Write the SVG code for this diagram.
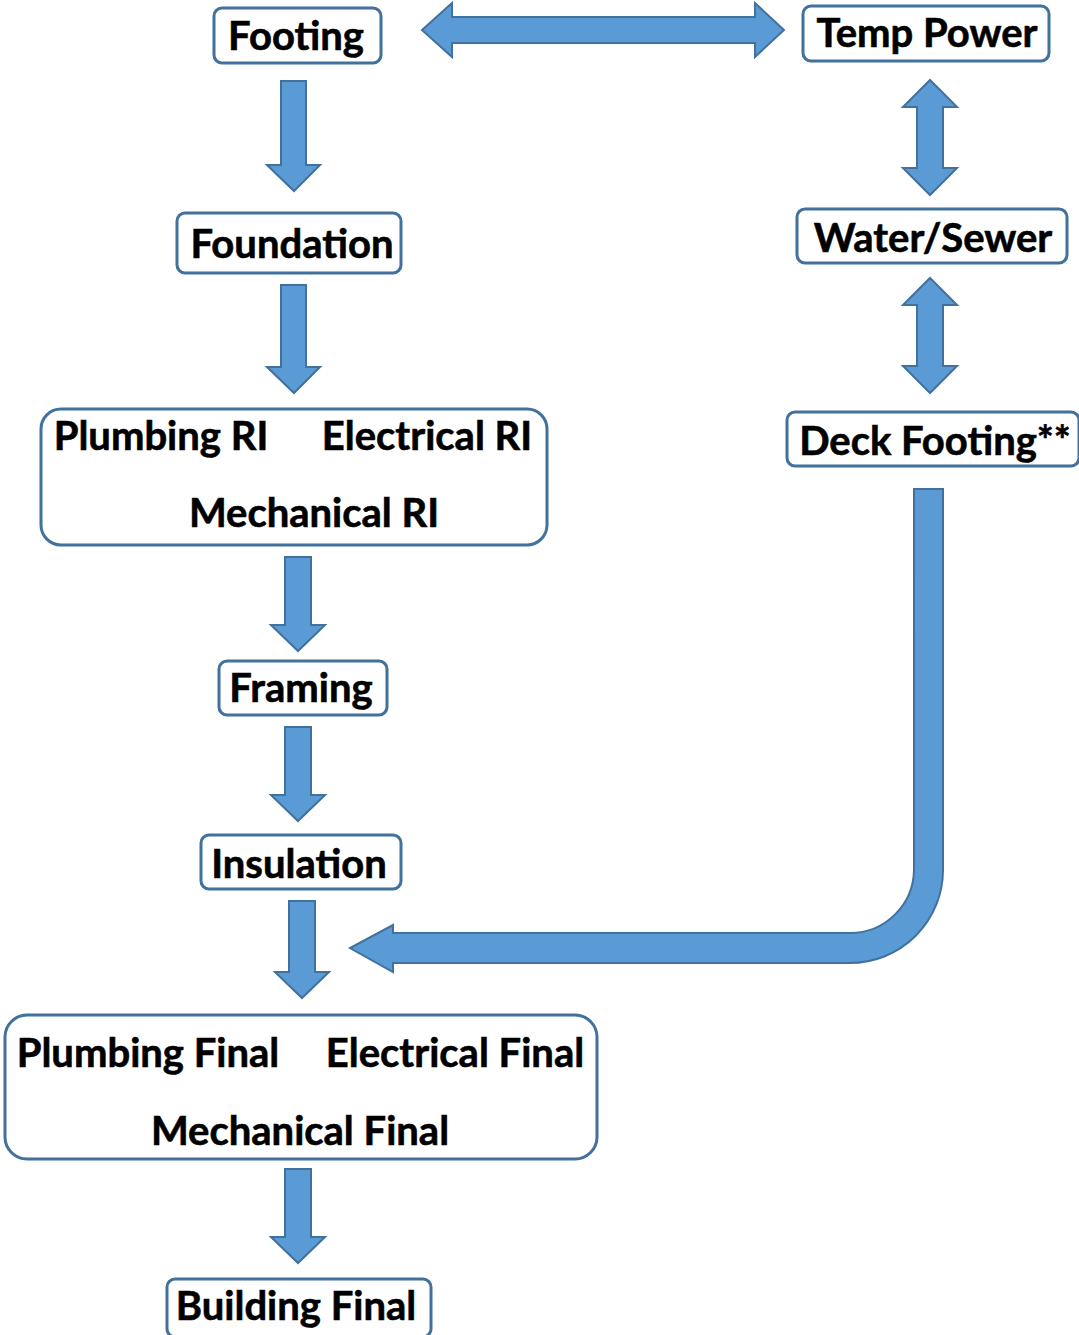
<svg xmlns="http://www.w3.org/2000/svg" width="1079" height="1335" viewBox="0 0 1079 1335">
<style>
.box{fill:#ffffff;stroke:#41719c;stroke-width:3}
.arr{fill:#5b9bd5;stroke:#41719c;stroke-width:2;stroke-linejoin:miter}
.t{font-family:Lato,"Liberation Sans",sans-serif;font-weight:bold;font-size:40px;fill:#000;text-anchor:middle;stroke:#000;stroke-width:0.6}
</style>
<rect width="1079" height="1335" fill="#ffffff"/>
<g id="connectors">
<polygon class="arr" points="422,30 452,3 452,17 755,17 755,3 784,30 755,57 755,43 452,43 452,57"/>
<polygon class="arr" points="930,80 957,107 943,107 943,168 957,168 930,195 903,168 917,168 917,107 903,107"/>
<polygon class="arr" points="930,278 957,305 943,305 943,366 957,366 930,393 903,366 917,366 917,305 903,305"/>
<polygon class="arr" points="281,81 306,81 306,165 320,165 294,191 267,165 281,165"/>
<polygon class="arr" points="281,285 306,285 306,367 320,367 294,393 267,367 281,367"/>
<polygon class="arr" points="285,557 311,557 311,625 325,625 298,651 271,625 285,625"/>
<polygon class="arr" points="285,727 311,727 311,795 325,795 298,821 271,795 285,795"/>
<polygon class="arr" points="289,901 315,901 315,972 329,972 302,998 275,972 289,972"/>
<polygon class="arr" points="285,1169 311,1169 311,1237 325,1237 298,1263 271,1237 285,1237"/>
<path class="arr" d="M914,489 L943,489 L943,870 A93,93 0 0 1 850,963 L393,963 L393,972 L350,948 L393,925 L393,933 L850,933 A64,64 0 0 0 914,870 Z"/>
</g>
<g id="footing"><rect class="box" x="214" y="8" width="167" height="55" rx="8"/><text class="t" x="296" y="50">Footing</text></g>
<g id="temp-power"><rect class="box" x="803" y="6" width="246" height="55" rx="8"/><text class="t" x="927" y="47">Temp Power</text></g>
<g id="water-sewer"><rect class="box" x="797" y="209" width="270" height="54" rx="8"/><text class="t" x="933" y="252">Water/Sewer</text></g>
<g id="deck-footing"><rect class="box" x="787" y="412" width="292" height="54" rx="8"/><text class="t" x="935" y="455">Deck Footing**</text></g>
<g id="foundation"><rect class="box" x="177" y="213" width="224" height="60" rx="8"/><text class="t" x="292" y="258">Foundation</text></g>
<g id="rough-in"><rect class="box" x="41" y="409" width="506" height="136" rx="20"/>
<text class="t" x="161" y="450">Plumbing RI</text><text class="t" x="427" y="450">Electrical RI</text><text class="t" x="314" y="527">Mechanical RI</text></g>
<g id="framing"><rect class="box" x="219" y="661" width="168" height="54" rx="8"/><text class="t" x="301" y="702">Framing</text></g>
<g id="insulation"><rect class="box" x="201" y="835" width="200" height="54" rx="8"/><text class="t" x="299" y="878">Insulation</text></g>
<g id="finals"><rect class="box" x="5" y="1015" width="592" height="144" rx="22"/>
<text class="t" x="148" y="1067">Plumbing Final</text><text class="t" x="455" y="1067">Electrical Final</text><text class="t" x="300" y="1145">Mechanical Final</text></g>
<g id="building-final"><rect class="box" x="167" y="1279" width="264" height="58" rx="8"/><text class="t" x="296" y="1320">Building Final</text></g>
</svg>
